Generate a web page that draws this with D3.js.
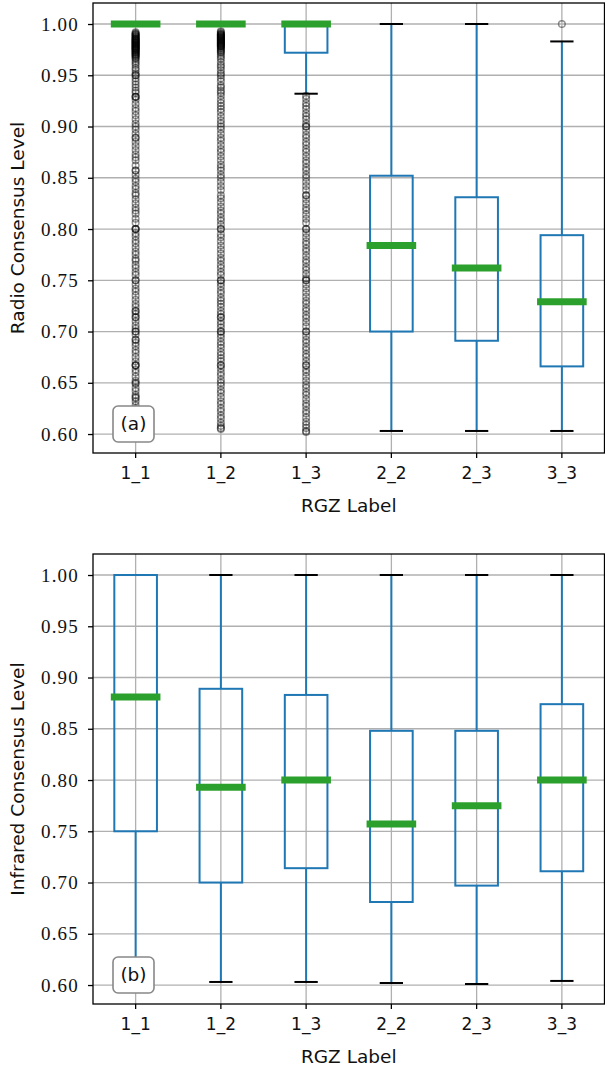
<!DOCTYPE html>
<html><head><meta charset="utf-8">
<script src="https://cdn.jsdelivr.net/npm/d3@7"></script>
<style>body{margin:0;background:#fff}svg{display:block}
.ytick text{font-family:"Liberation Serif","Times New Roman","DejaVu Serif",serif !important;}
</style>
</head><body>
<script>
const categories = ["1_1","1_2","1_3","2_2","2_3","3_3"];
const yTicks = [0.60,0.65,0.70,0.75,0.80,0.85,0.90,0.95,1.00];

// Panel (a) Radio consensus
const radioQ1 = [1.00,1.00,0.972,0.700,0.691,0.666];
const radioMed = [1.00,1.00,1.00,0.784,0.762,0.729];
const radioQ3 = [1.00,1.00,1.00,0.852,0.831,0.794];
const radioWhLo = [1.00,1.00,0.932,0.603,0.603,0.603];
const radioWhHi = [1.00,1.00,1.00,1.00,1.00,0.983];

const fliers11 = [0.992,0.991,0.99,0.99,0.989,0.988,0.988,0.987,0.986,0.986,0.985,0.985,0.984,0.984,0.983,0.983,0.982,0.982,0.981,0.981,0.98,0.98,0.979,0.979,0.978,0.978,0.977,0.977,0.976,0.976,0.975,0.975,0.974,0.974,0.973,0.972,0.972,0.971,0.97,0.97,0.969,0.968,0.967,0.966,0.964,0.962,0.96,0.957,0.955,0.952,0.95,0.95,0.947,0.944,0.941,0.938,0.935,0.933,0.929,0.929,0.929,0.926,0.922,0.918,0.915,0.911,0.907,0.903,0.9,0.897,0.893,0.889,0.889,0.885,0.881,0.877,0.873,0.87,0.867,0.862,0.857,0.857,0.853,0.849,0.846,0.842,0.839,0.835,0.833,0.829,0.825,0.821,0.818,0.815,0.81,0.806,0.8,0.8,0.8,0.796,0.793,0.789,0.786,0.782,0.778,0.775,0.771,0.769,0.765,0.762,0.758,0.755,0.75,0.75,0.746,0.742,0.739,0.735,0.731,0.727,0.724,0.72,0.72,0.717,0.714,0.714,0.71,0.706,0.703,0.7,0.7,0.697,0.692,0.692,0.689,0.686,0.682,0.679,0.675,0.671,0.667,0.667,0.667,0.663,0.66,0.656,0.652,0.65,0.649,0.645,0.642,0.638,0.636,0.635,0.632,0.628,0.625,0.62,0.615,0.61,0.605];
const fliers12 = [0.993,0.992,0.991,0.99,0.99,0.989,0.989,0.988,0.988,0.987,0.987,0.986,0.986,0.985,0.985,0.984,0.984,0.983,0.983,0.982,0.982,0.981,0.981,0.98,0.98,0.979,0.979,0.978,0.978,0.977,0.976,0.975,0.974,0.973,0.972,0.97,0.968,0.966,0.963,0.96,0.958,0.955,0.952,0.95,0.947,0.944,0.94,0.938,0.935,0.933,0.93,0.926,0.923,0.92,0.917,0.914,0.91,0.906,0.903,0.9,0.897,0.893,0.889,0.886,0.882,0.878,0.875,0.871,0.867,0.863,0.86,0.857,0.853,0.85,0.846,0.842,0.838,0.833,0.83,0.826,0.822,0.818,0.815,0.811,0.808,0.804,0.8,0.8,0.795,0.792,0.788,0.784,0.78,0.776,0.772,0.769,0.765,0.762,0.758,0.755,0.75,0.75,0.747,0.744,0.74,0.737,0.733,0.73,0.727,0.724,0.72,0.717,0.714,0.714,0.71,0.707,0.704,0.7,0.7,0.697,0.694,0.69,0.687,0.684,0.68,0.677,0.674,0.671,0.667,0.667,0.664,0.66,0.657,0.653,0.65,0.647,0.643,0.64,0.636,0.632,0.629,0.625,0.622,0.618,0.615,0.611,0.608,0.606,0.605];
const fliers13 = [0.93,0.927,0.923,0.92,0.917,0.913,0.91,0.907,0.903,0.9,0.9,0.896,0.892,0.889,0.885,0.882,0.878,0.875,0.871,0.867,0.864,0.86,0.857,0.853,0.85,0.846,0.842,0.838,0.833,0.833,0.829,0.825,0.821,0.818,0.814,0.81,0.806,0.8,0.8,0.796,0.792,0.788,0.785,0.781,0.778,0.774,0.77,0.767,0.763,0.76,0.756,0.752,0.75,0.75,0.746,0.742,0.738,0.734,0.73,0.727,0.723,0.72,0.716,0.713,0.709,0.705,0.7,0.7,0.696,0.692,0.689,0.685,0.682,0.678,0.675,0.671,0.667,0.667,0.663,0.66,0.656,0.652,0.648,0.645,0.641,0.638,0.634,0.63,0.627,0.623,0.62,0.616,0.612,0.609,0.606,0.603,0.602];
const fliers33 = [1.00];

// Panel (b) Infrared consensus
const irQ1 = [0.750,0.700,0.714,0.681,0.697,0.711];
const irMed = [0.881,0.793,0.800,0.757,0.775,0.800];
const irQ3 = [1.00,0.889,0.883,0.848,0.848,0.874];
const irWhLo = [0.603,0.603,0.603,0.602,0.601,0.604];
const irWhHi = [1.00,1.00,1.00,1.00,1.00,1.00];

const W = 605, H = 1067;
const svg = d3.select("body").append("svg").attr("width", W).attr("height", H);

const radioFliers = [fliers11, fliers12, fliers13, [], [], fliers33];
const sans = "'DejaVu Sans', sans-serif";

function panel(top, bottom, q1, med, q3, lo, hi, fliers, ylabel, tag) {
  const left = 93, right = 604.5;
  const x = d3.scaleBand().domain(categories).range([left, right]).paddingInner(0).paddingOuter(0);
  const y = d3.scaleLinear().domain([0.5815, 1.0205]).range([bottom, top]);
  const g = svg.append("g");
  const bw = x.bandwidth() * 0.5;
  const cx = c => x(c) + x.bandwidth() / 2;

  // grid
  g.append("g").selectAll("line").data(yTicks).join("line")
    .attr("x1", left).attr("x2", right).attr("y1", d => y(d)).attr("y2", d => y(d))
    .attr("stroke", "#b0b0b0").attr("stroke-width", 1.3);
  g.append("g").selectAll("line").data(categories).join("line")
    .attr("x1", cx).attr("x2", cx).attr("y1", top).attr("y2", bottom)
    .attr("stroke", "#b0b0b0").attr("stroke-width", 1.3);

  const items = categories.map((c, i) => ({c, q1: q1[i], med: med[i], q3: q3[i], lo: lo[i], hi: hi[i], fl: fliers ? fliers[i] : []}));

  // whiskers
  g.append("g").selectAll("line").data(items).join("line")
    .attr("x1", d => cx(d.c)).attr("x2", d => cx(d.c))
    .attr("y1", d => y(d.q1)).attr("y2", d => y(d.lo))
    .attr("stroke", "#1f77b4").attr("stroke-width", 2);
  g.append("g").selectAll("line").data(items).join("line")
    .attr("x1", d => cx(d.c)).attr("x2", d => cx(d.c))
    .attr("y1", d => y(d.q3)).attr("y2", d => y(d.hi))
    .attr("stroke", "#1f77b4").attr("stroke-width", 2);
  // caps
  const capW = x.bandwidth() * 0.25;
  ["lo", "hi"].forEach(k => {
    g.append("g").selectAll("line").data(items).join("line")
      .attr("x1", d => cx(d.c) - capW / 2 - 1).attr("x2", d => cx(d.c) + capW / 2 + 1)
      .attr("y1", d => y(d[k])).attr("y2", d => y(d[k]))
      .attr("stroke", "#000").attr("stroke-width", 2);
  });
  // boxes
  g.append("g").selectAll("rect").data(items).join("rect")
    .attr("x", d => cx(d.c) - bw / 2).attr("width", bw)
    .attr("y", d => y(d.q3)).attr("height", d => Math.max(0, y(d.q1) - y(d.q3)))
    .attr("fill", "none").attr("stroke", "#1f77b4").attr("stroke-width", 2);
  // fliers
  items.forEach(d => {
    g.append("g").selectAll("circle").data(d.fl).join("circle")
      .attr("cx", cx(d.c)).attr("cy", v => y(v)).attr("r", 3.3)
      .attr("fill", "none").attr("stroke", "#000").attr("stroke-opacity", 0.42).attr("stroke-width", 1.5);
  });
  // medians
  g.append("g").selectAll("line").data(items).join("line")
    .attr("x1", d => cx(d.c) - bw / 2).attr("x2", d => cx(d.c) + bw / 2)
    .attr("y1", d => y(d.med)).attr("y2", d => y(d.med))
    .attr("stroke", "#2ca02c").attr("stroke-width", 7).attr("stroke-linecap", "square");

  // frame
  g.append("rect").attr("x", left).attr("y", top).attr("width", right - left).attr("height", bottom - top)
    .attr("fill", "none").attr("stroke", "#000").attr("stroke-width", 1.3);

  // y axis
  const ya = g.append("g").attr("class", "ytick").attr("transform", `translate(${left},0)`)
    .call(d3.axisLeft(y).tickValues(yTicks).tickFormat(d3.format(".2f")).tickSize(5).tickPadding(9));
  ya.attr("font-family", null);
  ya.select(".domain").remove();
  ya.selectAll("line").attr("stroke", "#000").attr("stroke-width", 1.3);
  ya.selectAll("text").attr("font-size", 19).attr("letter-spacing", 1.2).attr("fill", "#111");

  // x axis
  const xa = g.append("g").attr("transform", `translate(0,${bottom})`)
    .call(d3.axisBottom(x).tickSize(5).tickPadding(9));
  xa.select(".domain").remove();
  xa.selectAll("line").attr("stroke", "#000").attr("stroke-width", 1.3);
  xa.selectAll("text").style("font-family", sans).style("font-size", "17px").attr("fill", "#111");

  g.append("text").attr("x", (left + right) / 2).attr("y", bottom + 59)
    .attr("text-anchor", "middle").style("font-family", sans).style("font-size", "18.5px").attr("fill", "#111")
    .text("RGZ Label");
  g.append("text").attr("transform", `translate(24,${(top + bottom) / 2}) rotate(-90)`)
    .attr("text-anchor", "middle").style("font-family", sans).style("font-size", "18.5px").attr("fill", "#111")
    .text(ylabel);

  // tag box
  const tb = g.append("g");
  tb.append("rect").attr("x", 113).attr("y", bottom - 47).attr("width", 41).attr("height", 36)
    .attr("rx", 5).attr("fill", "#fff").attr("stroke", "#888").attr("stroke-width", 1.6);
  tb.append("text").attr("x", 133.5).attr("y", bottom - 29).attr("dy", "0.35em")
    .attr("text-anchor", "middle").style("font-family", sans).style("font-size", "18.5px").attr("fill", "#111")
    .text(tag);
}

panel(3, 453, radioQ1, radioMed, radioQ3, radioWhLo, radioWhHi, radioFliers, "Radio Consensus Level", "(a)");
panel(554, 1004, irQ1, irMed, irQ3, irWhLo, irWhHi, null, "Infrared Consensus Level", "(b)");
</script>
</body></html>
